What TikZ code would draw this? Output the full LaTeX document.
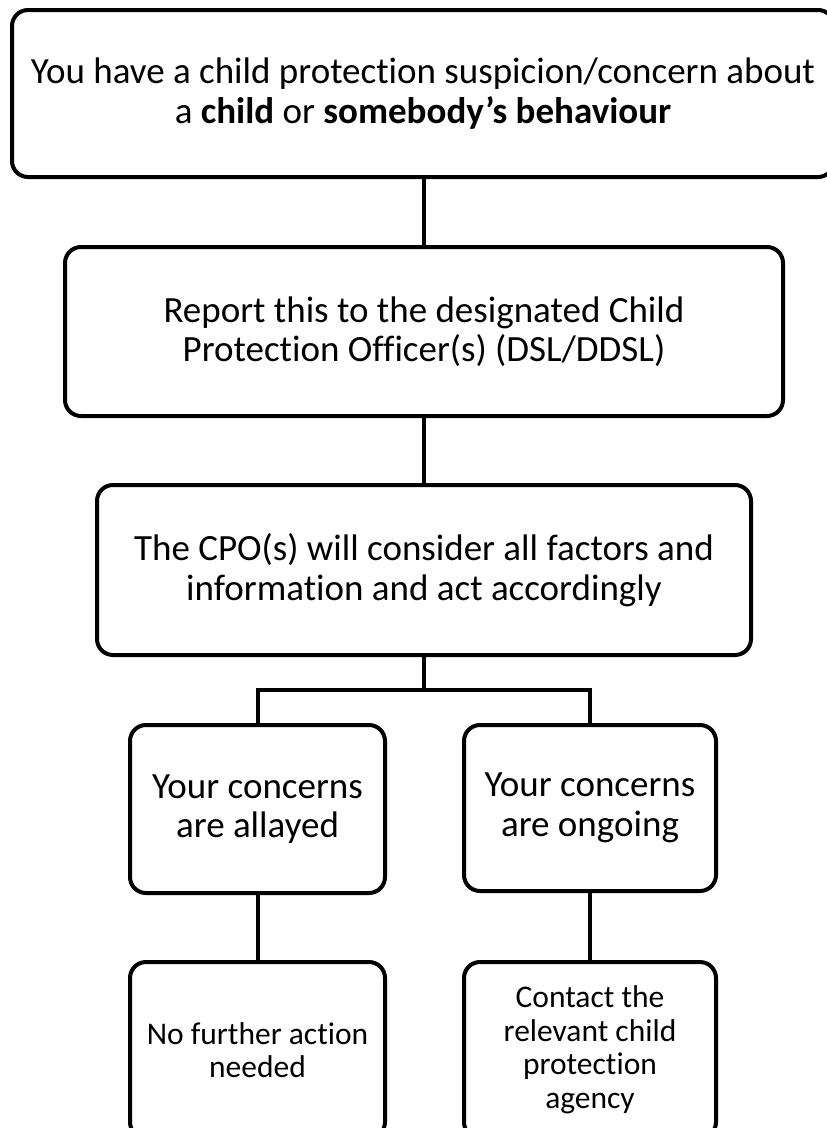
\documentclass[tikz,border=0pt]{standalone}
\usepackage{fontspec}
\setmainfont{Carlito}[Ligatures=NoCommon]
\begin{document}
\begin{tikzpicture}[x=1pt,y=-1pt,
  box/.style={draw=black, fill=white, line width=4pt, rounded corners=16pt,
    align=center, inner sep=0pt, text=black},
  bigtext/.style={font=\fontsize{37}{39.5}\selectfont},
  smalltext/.style={font=\fontsize{31.5}{33.5}\selectfont},
  link/.style={draw=black, line width=4pt, line join=miter}]
\useasboundingbox (0,0) rectangle (827,1128);
\fill[white] (0,0) rectangle (827,1128);

\node[box, bigtext, minimum width=822pt, minimum height=167pt] (top) at (423,93.5)
  {You have a child protection suspicion/concern about\\a \textbf{child} or \textbf{somebody’s behaviour}};
\node[box, bigtext, minimum width=718pt, minimum height=169pt] (report) at (424,331.5)
  {Report this to the designated Child\\Protection Officer(s) (DSL/DDSL)};
\node[box, bigtext, minimum width=654pt, minimum height=170pt] (cpo) at (424,570)
  {The CPO(s) will consider all factors and\\information and act accordingly};
\node[box, bigtext, minimum width=255pt, minimum height=168pt] (allayed) at (257.5,809)
  {Your concerns\\are allayed};
\node[box, bigtext, minimum width=252pt, minimum height=166pt] (ongoing) at (590,808)
  {Your concerns\\are ongoing};
\node[box, smalltext, minimum width=255pt, minimum height=176pt] (nfa) at (257.5,1050)
  {No further action\\needed};
\node[box, smalltext, minimum width=252pt, minimum height=176pt] (contact) at (590,1050)
  {Contact the\\relevant child\\protection\\agency};

\coordinate (split) at (424,690);
\draw[link] (report.north |- top.south) -- (report.north);
\draw[link] (report.south) -- (cpo.north);
\draw[link] (cpo.south) -- (split);
\draw[link] (allayed.north) |- (split) -| (ongoing.north);
\draw[link] (allayed.south) -- (nfa.north);
\draw[link] (ongoing.south) -- (contact.north);
\end{tikzpicture}
\end{document}
